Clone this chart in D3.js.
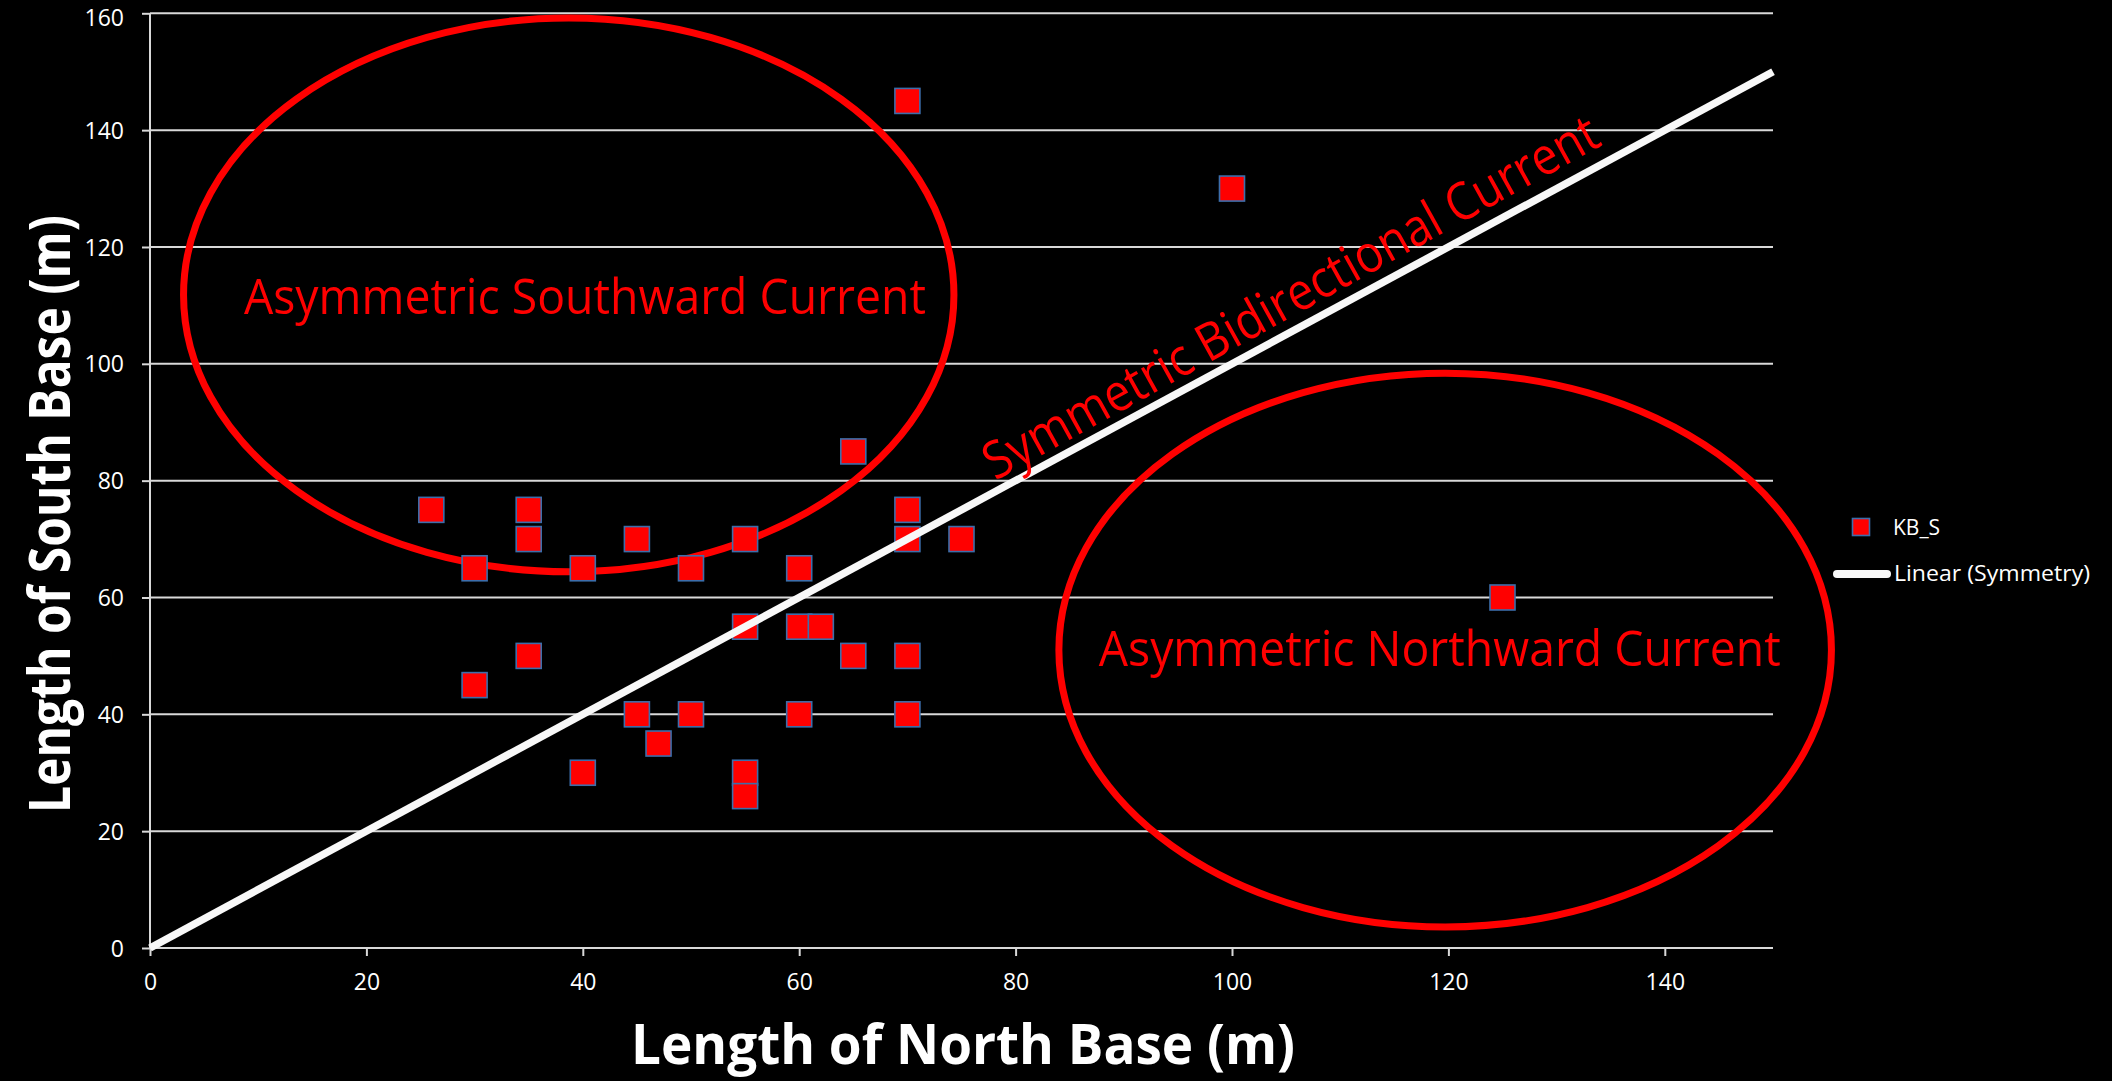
<!DOCTYPE html>
<html>
<head>
<meta charset="utf-8">
<script src="https://cdn.jsdelivr.net/npm/d3@7"></script>
<style>
  html, body { margin: 0; padding: 0; background: #000; }
  svg { display: block; }
</style>
</head>
<body>
<svg id="chart" width="2112" height="1081"></svg>
<script>
// ---- data ----
const northBase = [26, 30, 30, 35, 35, 35, 40, 40, 45, 45, 47, 50, 50, 55, 55, 55, 55, 60, 60, 60, 62, 65, 65, 70, 70, 70, 70, 70, 75, 100, 125];
const southBase = [75, 65, 45, 75, 70, 50, 65, 30, 70, 40, 35, 65, 40, 70, 55, 30, 26, 65, 55, 40, 55, 85, 50, 145, 75, 70, 50, 40, 70, 130, 60];
const symmetryX = [0, 150];
const symmetryY = [0, 150];
const xTicks = [0, 20, 40, 60, 80, 100, 120, 140];
const yTicks = [0, 20, 40, 60, 80, 100, 120, 140, 160];
const seriesNames = ["KB_S", "Linear (Symmetry)"];
// annotation ellipses in data units: centre x, centre y, radius x, radius y
const ellipseCx = [38.7, 119.7];
const ellipseCy = [111.8, 51.0];
const ellipseRx = [35.6, 35.7];
const ellipseRy = [47.4, 47.4];
const regionLabels = ["Asymmetric Southward Current", "Asymmetric Northward Current"];
const regionLabelX = [40.2, 119.2];
const regionLabelY = [108.6, 48.2];
const diagonalLabel = "Symmetric Bidirectional Current";
const diagonalLabelAt = 106.8;
const xTitle = "Length of North Base (m)";
const yTitle = "Length of South Base (m)";

// ---- layout ----
const svg = d3.select("#chart");
const plotLeft = 150, plotRight = 1773, plotTop = 13.3, plotBottom = 948;
const x = d3.scaleLinear().domain([0, 150]).range([plotLeft, plotRight]);
const y = d3.scaleLinear().domain([0, 160]).range([plotBottom, plotTop]);
const FONT = "'Open Sans', 'Noto Sans', sans-serif";
const RED = "#ff0000";

svg.append("rect").attr("width", 2112).attr("height", 1081).attr("fill", "#000");

// gridlines
svg.append("g")
  .selectAll("line")
  .data(yTicks.filter(d => d > 0))
  .join("line")
  .attr("x1", plotLeft).attr("x2", plotRight)
  .attr("y1", d => y(d)).attr("y2", d => y(d))
  .attr("stroke", "#d9d9d9").attr("stroke-width", 2);

// axes
const xAxis = d3.axisBottom(x).tickValues(xTicks).tickSize(8).tickPadding(10);
const gx = svg.append("g").attr("transform", `translate(0,${plotBottom})`).call(xAxis);
gx.select(".domain").attr("stroke", "#d9d9d9").attr("stroke-width", 2).attr("d", `M${plotLeft},0H${plotRight}`);
gx.selectAll(".tick line").attr("stroke", "#d9d9d9").attr("stroke-width", 2);
gx.selectAll(".tick text").attr("fill", "#ffffff").attr("font-family", FONT).attr("font-size", 23)
  .attr("y", 42).attr("dy", 0);

const yAxis = d3.axisLeft(y).tickValues(yTicks).tickSize(8).tickPadding(18);
const gy = svg.append("g").attr("transform", `translate(${plotLeft},0)`).call(yAxis);
gy.select(".domain").attr("stroke", "#d9d9d9").attr("stroke-width", 2).attr("d", `M0,${plotBottom}V${plotTop}`);
gy.selectAll(".tick line").attr("stroke", "#d9d9d9").attr("stroke-width", 2);
gy.selectAll(".tick text").attr("fill", "#ffffff").attr("font-family", FONT).attr("font-size", 23)
  .attr("x", -26).attr("dy", d => d === 160 ? "0.52em" : "0.35em");

// ellipses
svg.append("g")
  .selectAll("ellipse")
  .data(ellipseCx.map((c, i) => i))
  .join("ellipse")
  .attr("cx", i => x(ellipseCx[i]))
  .attr("cy", i => y(ellipseCy[i]))
  .attr("rx", i => x(ellipseRx[i]) - x(0))
  .attr("ry", i => y(0) - y(ellipseRy[i]))
  .attr("fill", "none").attr("stroke", RED).attr("stroke-width", 7);

// points
const size = 25;
svg.append("g")
  .selectAll("rect")
  .data(northBase.map((d, i) => [d, southBase[i]]))
  .join("rect")
  .attr("x", d => x(d[0]) - size / 2)
  .attr("y", d => y(d[1]) - size / 2)
  .attr("width", size).attr("height", size)
  .attr("fill", RED).attr("stroke", "#3c6eab").attr("stroke-width", 1.6);

// symmetry line
svg.append("line")
  .attr("x1", x(symmetryX[0])).attr("y1", y(symmetryY[0]))
  .attr("x2", x(symmetryX[1])).attr("y2", y(symmetryY[1]))
  .attr("stroke", "#f8f8f8").attr("stroke-width", 7.5);

// region labels
svg.append("g")
  .selectAll("text")
  .data(regionLabels)
  .join("text")
  .attr("x", (d, i) => x(regionLabelX[i]))
  .attr("y", (d, i) => y(regionLabelY[i]))
  .attr("text-anchor", "middle")
  .attr("fill", RED).attr("font-family", FONT).attr("font-size", 50)
  .attr("textLength", 682).attr("lengthAdjust", "spacingAndGlyphs")
  .text(d => d);

// diagonal label
const ang = Math.atan2(y(0) - y(1), x(1) - x(0)) * 180 / Math.PI;
const rad = ang * Math.PI / 180;
const off = 13;
const dlx = x(diagonalLabelAt) - off * Math.sin(rad);
const dly = y(diagonalLabelAt) - off * Math.cos(rad);
svg.append("text")
  .attr("transform", `translate(${dlx},${dly}) rotate(${-ang - 0.6})`)
  .attr("text-anchor", "middle")
  .attr("fill", RED).attr("font-family", FONT).attr("font-size", 52)
  .attr("textLength", 695).attr("lengthAdjust", "spacingAndGlyphs")
  .text(diagonalLabel);

// axis titles
svg.append("text")
  .attr("x", 963).attr("y", 1064)
  .attr("text-anchor", "middle")
  .attr("fill", "#ffffff").attr("font-family", FONT).attr("font-weight", 700).attr("font-size", 56)
  .attr("textLength", 664).attr("lengthAdjust", "spacingAndGlyphs")
  .text(xTitle);
svg.append("text")
  .attr("transform", `translate(70,514) rotate(-90)`)
  .attr("text-anchor", "middle")
  .attr("fill", "#ffffff").attr("font-family", FONT).attr("font-weight", 700).attr("font-size", 57)
  .attr("textLength", 598).attr("lengthAdjust", "spacingAndGlyphs")
  .text(yTitle);

// legend
const lg = svg.append("g");
lg.append("rect").attr("x", 1852.5).attr("y", 518.5).attr("width", 17).attr("height", 17)
  .attr("fill", RED).attr("stroke", "#3c6eab").attr("stroke-width", 1.6);
lg.append("text").attr("x", 1893).attr("y", 535)
  .attr("fill", "#ffffff").attr("font-family", FONT).attr("font-size", 21)
  .text(seriesNames[0]);
lg.append("line").attr("x1", 1837).attr("x2", 1887).attr("y1", 574).attr("y2", 574)
  .attr("stroke", "#f8f8f8").attr("stroke-width", 8).attr("stroke-linecap", "round");
lg.append("text").attr("x", 1894).attr("y", 581)
  .attr("fill", "#ffffff").attr("font-family", FONT).attr("font-size", 21)
  .attr("textLength", 196).attr("lengthAdjust", "spacingAndGlyphs")
  .text(seriesNames[1]);
</script>
</body>
</html>
